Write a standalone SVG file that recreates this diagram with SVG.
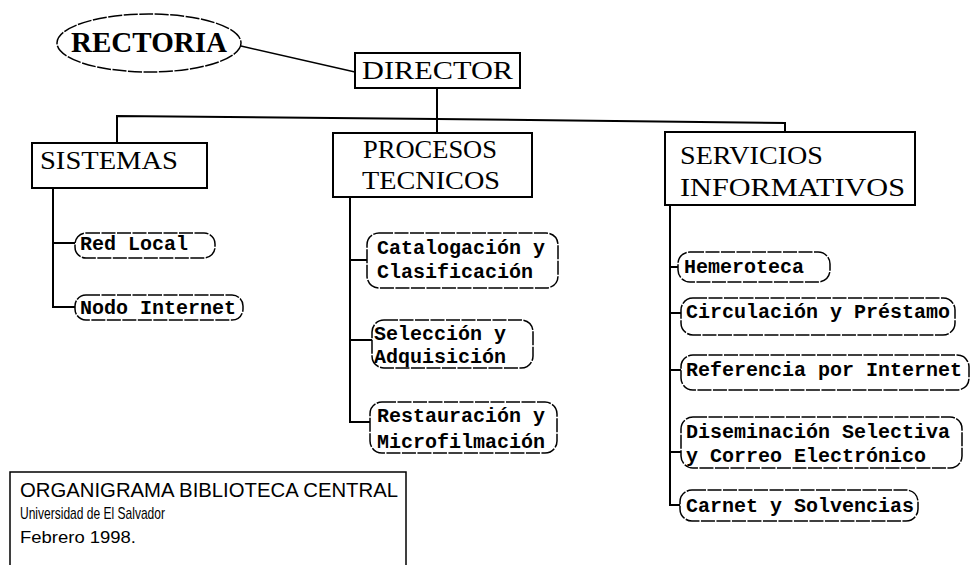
<svg xmlns="http://www.w3.org/2000/svg" width="971" height="565" viewBox="0 0 971 565">
<style>
.box{fill:#fff;stroke:#000;stroke-width:2}
.pill{fill:#fff;stroke:#000;stroke-width:1.5;stroke-dasharray:14 1.5}
.ln{fill:none;stroke:#000;stroke-width:2}
.bt{font-family:"Liberation Serif","Times New Roman",serif;font-size:25px;fill:#000}
.pt{font-family:"Liberation Mono","Courier New",monospace;font-weight:bold;font-size:20px;fill:#000}
.ft{font-family:"Liberation Sans",Arial,sans-serif;fill:#000}
</style>
<rect width="971" height="565" fill="#fff"/>
<g id="connectors">
<line class="ln" x1="241" y1="46" x2="355" y2="72" style="stroke-width:1.4"/>
<line class="ln" x1="437" y1="88" x2="437" y2="133"/>
<polyline class="ln" points="117,143 117,116 437,119 785,123 785,132"/>
<polyline class="ln" points="53,188 53,307 75,307"/>
<line class="ln" x1="53" y1="243" x2="75" y2="243"/>
<polyline class="ln" points="350,197 350,422 370,422"/>
<line class="ln" x1="350" y1="260" x2="367" y2="260"/>
<line class="ln" x1="350" y1="340" x2="372" y2="340"/>
<polyline class="ln" points="670,205 670,505 680,505"/>
<line class="ln" x1="670" y1="267" x2="678" y2="267"/>
<line class="ln" x1="670" y1="313" x2="681" y2="313"/>
<line class="ln" x1="670" y1="370" x2="681" y2="370"/>
<line class="ln" x1="670" y1="452" x2="681" y2="452"/>
</g>
<g id="rectoria">
<ellipse cx="149" cy="43" rx="92" ry="29" fill="#fff" stroke="#000" stroke-width="1.5" stroke-dasharray="14 1.5"/>
<text x="71" y="52" font-family="'Liberation Serif','Times New Roman',serif" font-weight="bold" font-size="30" textLength="156" lengthAdjust="spacingAndGlyphs">RECTORIA</text>
</g>
<g id="director">
<rect class="box" x="355" y="53" width="165" height="35"/>
<text class="bt" x="362" y="79" font-size="26" textLength="151" lengthAdjust="spacingAndGlyphs">DIRECTOR</text>
</g>
<g id="sistemas">
<rect class="box" x="32" y="143" width="175" height="45"/>
<text class="bt" x="40" y="169" textLength="138" lengthAdjust="spacingAndGlyphs">SISTEMAS</text>
</g>
<g id="procesos">
<rect class="box" x="333" y="133" width="199" height="64"/>
<text class="bt" x="363" y="158" textLength="134" lengthAdjust="spacingAndGlyphs">PROCESOS</text>
<text class="bt" x="362" y="189" textLength="138" lengthAdjust="spacingAndGlyphs">TECNICOS</text>
</g>
<g id="servicios">
<rect class="box" x="665" y="132" width="250" height="73"/>
<text class="bt" x="680" y="164" textLength="143" lengthAdjust="spacingAndGlyphs">SERVICIOS</text>
<text class="bt" x="680" y="196" textLength="225" lengthAdjust="spacingAndGlyphs">INFORMATIVOS</text>
</g>
<g id="red-local">
<rect class="pill" x="75" y="233" width="140" height="25" rx="11"/>
<text class="pt" x="80" y="250">Red Local</text>
</g>
<g id="nodo-internet">
<rect class="pill" x="75" y="295" width="168" height="25" rx="11"/>
<text class="pt" x="80" y="314">Nodo Internet</text>
</g>
<g id="catalogacion">
<rect class="pill" x="367" y="233" width="191" height="55" rx="12"/>
<text class="pt" x="377" y="254">Catalogación y</text>
<text class="pt" x="377" y="278">Clasificación</text>
</g>
<g id="seleccion">
<rect class="pill" x="372" y="320" width="161" height="48" rx="12"/>
<text class="pt" x="374" y="340">Selección y</text>
<text class="pt" x="374" y="363">Adquisición</text>
</g>
<g id="restauracion">
<rect class="pill" x="370" y="402" width="187" height="51" rx="12"/>
<text class="pt" x="377" y="422">Restauración y</text>
<text class="pt" x="377" y="448">Microfilmación</text>
</g>
<g id="hemeroteca">
<rect class="pill" x="678" y="252" width="152" height="30" rx="12"/>
<text class="pt" x="684" y="273">Hemeroteca</text>
</g>
<g id="circulacion">
<rect class="pill" x="681" y="298" width="274" height="37" rx="12"/>
<text class="pt" x="686" y="318">Circulación y Préstamo</text>
</g>
<g id="referencia">
<rect class="pill" x="681" y="355" width="288" height="35" rx="12"/>
<text class="pt" x="686" y="376">Referencia por Internet</text>
</g>
<g id="diseminacion">
<rect class="pill" x="681" y="417" width="281" height="51" rx="12"/>
<text class="pt" x="686" y="438">Diseminación Selectiva</text>
<text class="pt" x="686" y="462">y Correo Electrónico</text>
</g>
<g id="carnet">
<rect class="pill" x="680" y="490" width="238" height="31" rx="12"/>
<text class="pt" x="686" y="512">Carnet y Solvencias</text>
</g>
<g id="title">
<rect class="box" x="10" y="472" width="396" height="110" style="stroke-width:1.5"/>
<text class="ft" x="20" y="497" font-size="21" textLength="378" lengthAdjust="spacingAndGlyphs">ORGANIGRAMA BIBLIOTECA CENTRAL</text>
<text class="ft" x="20" y="519" font-size="17" textLength="145" lengthAdjust="spacingAndGlyphs">Universidad de El Salvador</text>
<text class="ft" x="20" y="543" font-size="17" textLength="116" lengthAdjust="spacingAndGlyphs">Febrero 1998.</text>
</g>
</svg>
